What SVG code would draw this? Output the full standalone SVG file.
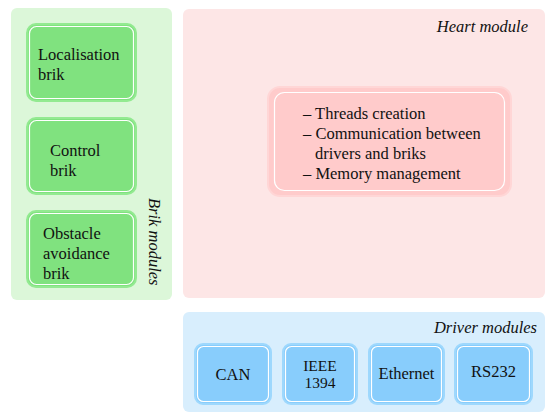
<svg xmlns="http://www.w3.org/2000/svg" width="545" height="412" viewBox="0 0 545 412">
  <style>
    text { font-family: "Liberation Serif", "Times New Roman", serif; font-size: 16.5px; fill: #111; }
    .title { font-style: italic; }
    .tight { font-size: 15.5px; }
    .green { fill: #80e27f; stroke: #93ea91; stroke-width: 2; }
    .blue { fill: #88cdfc; stroke: #9ed8fd; stroke-width: 2; }
    .pink { fill: #ffcbcb; stroke: #ffd6d6; stroke-width: 2; }
    .rim { fill: none; stroke: #ffffff; stroke-width: 1.2; }
  </style>
  <rect width="545" height="412" fill="#ffffff"/>

  <!-- Brik modules panel -->
  <g id="brik-modules">
    <rect x="11" y="8" width="161" height="292" rx="6" fill="#dcf7d9"/>
    <text class="title" transform="translate(149,198) rotate(90)">Brik modules</text>
  </g>
  <g id="localisation-brik">
    <rect class="green" x="27" y="24" width="109" height="77" rx="9"/>
    <rect class="rim" x="29.5" y="26.5" width="104" height="72" rx="7"/>
    <text x="38" y="60">Localisation</text>
    <text x="38" y="80">brik</text>
  </g>
  <g id="control-brik">
    <rect class="green" x="27" y="118" width="109" height="76" rx="9"/>
    <rect class="rim" x="29.5" y="120.5" width="104" height="71" rx="7"/>
    <text x="50" y="156">Control</text>
    <text x="50" y="176">brik</text>
  </g>
  <g id="obstacle-avoidance-brik">
    <rect class="green" x="27" y="211" width="109" height="76" rx="9"/>
    <rect class="rim" x="29.5" y="213.5" width="104" height="71" rx="7"/>
    <text x="43" y="239">Obstacle</text>
    <text x="43" y="259">avoidance</text>
    <text x="43" y="279">brik</text>
  </g>

  <!-- Heart module panel -->
  <g id="heart-module">
    <rect x="183" y="9" width="362" height="289" rx="6" fill="#fde6e6"/>
    <text class="title" x="528" y="32" text-anchor="end">Heart module</text>
  </g>
  <g id="heart-tasks">
    <rect class="pink" x="268" y="87" width="243" height="109" rx="12"/>
    <rect class="rim" x="274.5" y="92.5" width="230" height="98" rx="10"/>
    <text x="303" y="119">– Threads creation</text>
    <text x="303" y="139">– Communication between</text>
    <text x="315" y="159">drivers and briks</text>
    <text x="303" y="179">– Memory management</text>
  </g>

  <!-- Driver modules panel -->
  <g id="driver-modules">
    <rect x="183" y="312" width="362" height="100" rx="6" fill="#d8eefd"/>
    <text class="title" x="537" y="333" text-anchor="end">Driver modules</text>
  </g>
  <g id="can">
    <rect class="blue" x="195" y="344" width="76" height="60" rx="8"/>
    <rect class="rim" x="197.5" y="346.5" width="71" height="55" rx="6"/>
    <text x="233" y="380" text-anchor="middle">CAN</text>
  </g>
  <g id="ieee-1394">
    <rect class="blue" x="283" y="344" width="74" height="60" rx="8"/>
    <rect class="rim" x="285.5" y="346.5" width="69" height="55" rx="6"/>
    <text class="tight" x="320" y="371" text-anchor="middle">IEEE</text>
    <text class="tight" x="320" y="388" text-anchor="middle">1394</text>
  </g>
  <g id="ethernet">
    <rect class="blue" x="369" y="344" width="75" height="60" rx="8"/>
    <rect class="rim" x="371.5" y="346.5" width="70" height="55" rx="6"/>
    <text x="406.5" y="379" text-anchor="middle">Ethernet</text>
  </g>
  <g id="rs232">
    <rect class="blue" x="455" y="344" width="77" height="60" rx="8"/>
    <rect class="rim" x="457.5" y="346.5" width="72" height="55" rx="6"/>
    <text x="493.5" y="377" text-anchor="middle">RS232</text>
  </g>

  <!-- no connectors in this layout -->
  <g id="connectors"/>
</svg>
